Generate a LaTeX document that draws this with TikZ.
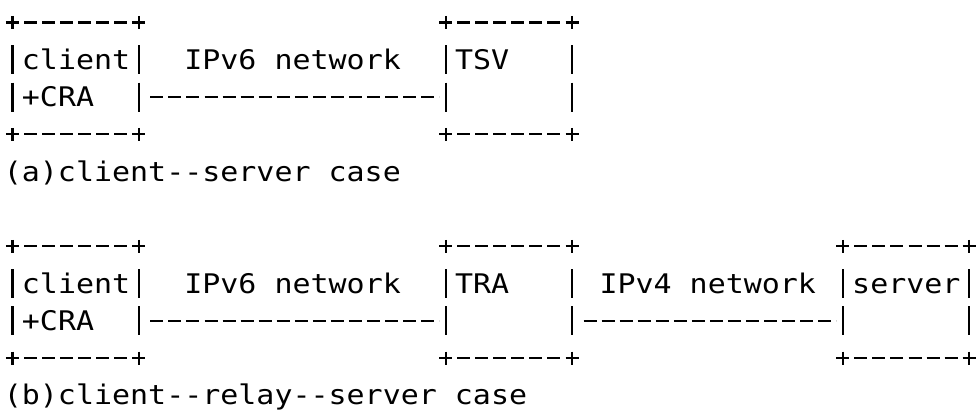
\documentclass[tikz,border=0pt]{standalone}
\usepackage{fontspec}
\setmonofont{DejaVu Sans Mono}[FakeStretch=1.11]
\usetikzlibrary{calc}

\tikzset{
  asciibox/.style={minimum width=63.175pt, minimum height=55.95pt, inner sep=0pt, outer sep=0pt},
  boxtop/.style={line width=1.1pt, dash pattern=on 6.5pt off 2.525pt, shorten <=-3.25pt, shorten >=-3.25pt},
  boxside/.style={line width=1.1pt, dash pattern=on 6.5pt off 8.15pt on 14.5pt off 4.15pt on 14.5pt off 8.15pt on 6.5pt off 10pt, shorten <=-3.25pt, shorten >=-3.25pt},
  netlink/.style={line width=1.1pt, dash pattern=on 6.5pt off 2.525pt, dash phase=6.5pt, shorten <=3.25pt, shorten >=3.25pt},
  txt/.style={anchor=base west, inner sep=0pt, xshift=-4.5125pt, yshift=-4.75pt, font=\ttfamily\fontsize{13.5pt}{16pt}\selectfont}
}

\begin{document}
\begin{tikzpicture}[x=9.025pt, y=-18.65pt]
\useasboundingbox (-0.6925,-0.603) rectangle (53.435,10.496);
% (a) client--server
\node[asciibox] (cliA) at (3.5,1.5) {};
\node[asciibox] (tsv) at (27.5,1.5) {};
% (b) client--relay--server
\node[asciibox] (cliB) at (3.5,7.5) {};
\node[asciibox] (tra) at (27.5,7.5) {};
\node[asciibox] (srv) at (49.5,7.5) {};
\foreach \b in {cliA,tsv,cliB,tra,srv} {
  \draw[boxtop] (\b.north west) -- (\b.north east);
  \draw[boxtop] (\b.south west) -- (\b.south east);
  \draw[boxside] (\b.north west) -- (\b.south west);
  \draw[boxside] (\b.north east) -- (\b.south east);
}
\draw[netlink] ($(cliA.east)+(0,0.5)$) -- ($(tsv.west)+(0,0.5)$);
\draw[netlink] ($(cliB.east)+(0,0.5)$) -- ($(tra.west)+(0,0.5)$);
\draw[netlink] ($(tra.east)+(0,0.5)$) -- ($(srv.west)+(0,0.5)$);
% labels
\node[txt] (cliAname) at (1,1) {client};
\node[txt] (cliAcra) at (1,2) {+CRA};
\node[txt] (netA) at (10,1) {IPv6 network};
\node[txt] (tsvname) at (25,1) {TSV};
\node[txt] (capA) at (0,4) {(a)client--server case};
\node[txt] (cliBname) at (1,7) {client};
\node[txt] (cliBcra) at (1,8) {+CRA};
\node[txt] (netB6) at (10,7) {IPv6 network};
\node[txt] (traname) at (25,7) {TRA};
\node[txt] (netB4) at (33,7) {IPv4 network};
\node[txt] (srvname) at (47,7) {server};
\node[txt] (capB) at (0,10) {(b)client--relay--server case};
\end{tikzpicture}
\end{document}
